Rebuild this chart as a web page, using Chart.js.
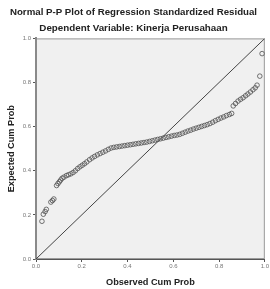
<!DOCTYPE html>
<html><head><meta charset="utf-8">
<script src="https://cdn.jsdelivr.net/npm/chart.js@4/dist/chart.umd.min.js"></script>
<style>html,body{margin:0;padding:0;background:#fff}#wrap{width:270px;height:289px}</style>
</head><body><div id="wrap"><canvas id="c" width="270" height="289"></canvas></div>
<script>
const titleText = "Normal P-P Plot of Regression Standardized Residual";
const subtitleText = "Dependent Variable: Kinerja Perusahaan";
const xAxisTitle = "Observed Cum Prob";
const yAxisTitle = "Expected Cum Prob";
const tickValues = [0, 0.2, 0.4, 0.6, 0.8, 1.0];
const tickLabels = ["0.0", "0.2", "0.4", "0.6", "0.8", "1.0"];
const observedCumProb = [0.026,0.032,0.040,0.045,0.065,0.072,0.078,0.090,0.096,0.102,0.108,0.114,0.122,0.133,0.142,0.152,0.162,0.172,0.182,0.192,0.202,0.212,0.222,0.234,0.245,0.256,0.268,0.280,0.292,0.304,0.316,0.328,0.340,0.352,0.364,0.376,0.388,0.400,0.412,0.424,0.436,0.448,0.460,0.472,0.484,0.496,0.508,0.520,0.532,0.544,0.556,0.568,0.580,0.592,0.604,0.616,0.628,0.640,0.652,0.664,0.676,0.688,0.700,0.712,0.724,0.736,0.748,0.760,0.772,0.784,0.796,0.808,0.820,0.832,0.845,0.855,0.862,0.872,0.883,0.894,0.905,0.916,0.926,0.937,0.948,0.958,0.966,0.978,0.988];
const expectedCumProb = [0.171,0.203,0.215,0.225,0.258,0.265,0.272,0.333,0.342,0.350,0.358,0.366,0.371,0.378,0.382,0.386,0.392,0.400,0.410,0.418,0.425,0.432,0.440,0.450,0.458,0.465,0.472,0.478,0.484,0.490,0.497,0.503,0.506,0.508,0.510,0.512,0.514,0.516,0.518,0.520,0.522,0.524,0.526,0.528,0.530,0.533,0.536,0.539,0.542,0.545,0.548,0.551,0.554,0.557,0.560,0.562,0.565,0.570,0.575,0.580,0.584,0.589,0.593,0.597,0.601,0.605,0.609,0.614,0.620,0.627,0.633,0.639,0.644,0.650,0.655,0.660,0.694,0.705,0.716,0.724,0.731,0.740,0.748,0.757,0.767,0.776,0.788,0.829,0.931];
const referenceLineX = [0, 1];
const referenceLineY = [0, 1];

const plotBg = {
  id: 'plotBg',
  beforeDraw(chart) {
    const {ctx, chartArea: a} = chart;
    ctx.save();
    ctx.fillStyle = '#f0f0f0';
    ctx.fillRect(a.left, a.top, a.right - a.left, a.bottom - a.top);
    ctx.strokeStyle = '#9a9a9a';
    ctx.lineWidth = 1;
    ctx.strokeRect(a.left + 0.5, a.top + 0.5, a.right - a.left - 1, a.bottom - a.top - 1);
    ctx.restore();
  }
};

new Chart(document.getElementById('c'), {
  type: 'scatter',
  data: {
    datasets: [
      {
        data: observedCumProb.map((x, i) => ({x, y: expectedCumProb[i]})),
        pointStyle: 'circle', pointRadius: 2.3, pointBorderWidth: 0.8,
        borderColor: '#505050', backgroundColor: 'rgba(0,0,0,0)', showLine: false
      },
      {
        data: referenceLineX.map((x, i) => ({x, y: referenceLineY[i]})),
        showLine: true, pointRadius: 0, borderColor: '#444', borderWidth: 1
      }
    ]
  },
  options: {
    responsive: false, animation: false, devicePixelRatio: 1,
    layout: {padding: {left: 0, right: 3, top: 0, bottom: 0}},
    plugins: {
      legend: {display: false}, tooltip: {enabled: false},
      title: {display: true, text: titleText, color: '#222',
        font: {family: 'Liberation Sans', size: 9.7, weight: 'bold'}, lineHeight: 1.1, padding: {top: 7, bottom: 4}},
      subtitle: {display: true, text: subtitleText, color: '#222',
        font: {family: 'Liberation Sans', size: 9.8, weight: 'bold'}, lineHeight: 1.1, padding: {top: 0, bottom: 4}}
    },
    scales: {
      x: {
        type: 'linear', min: 0, max: 1,
        afterFit(s) { s.height = 30; },
        afterBuildTicks(s) { s.ticks = tickValues.map(v => ({value: v})); },
        ticks: {callback: (v) => tickLabels[tickValues.indexOf(v)] ?? '', color: '#777',
          font: {family: 'Liberation Sans', size: 6}, padding: 1, maxRotation: 0},
        grid: {drawOnChartArea: false, drawTicks: true, tickLength: 3, color: '#555'},
        border: {color: '#555', width: 1},
        title: {display: true, text: xAxisTitle, color: '#222',
          font: {family: 'Liberation Sans', size: 9.2, weight: 'bold'}, padding: {top: 2, bottom: 1}}
      },
      y: {
        type: 'linear', min: 0, max: 1,
        afterFit(s) { s.width = 36; },
        afterBuildTicks(s) { s.ticks = tickValues.map(v => ({value: v})); },
        ticks: {callback: (v) => tickLabels[tickValues.indexOf(v)] ?? '', color: '#777',
          font: {family: 'Liberation Sans', size: 6}, padding: 2},
        grid: {drawOnChartArea: false, drawTicks: true, tickLength: 3, color: '#555'},
        border: {color: '#8a8a8a', width: 2},
        title: {display: true, text: yAxisTitle, color: '#222',
          font: {family: 'Liberation Sans', size: 9.2, weight: 'bold'}, padding: {top: 6, bottom: 2}}
      }
    }
  },
  plugins: [plotBg]
});
</script></body></html>
